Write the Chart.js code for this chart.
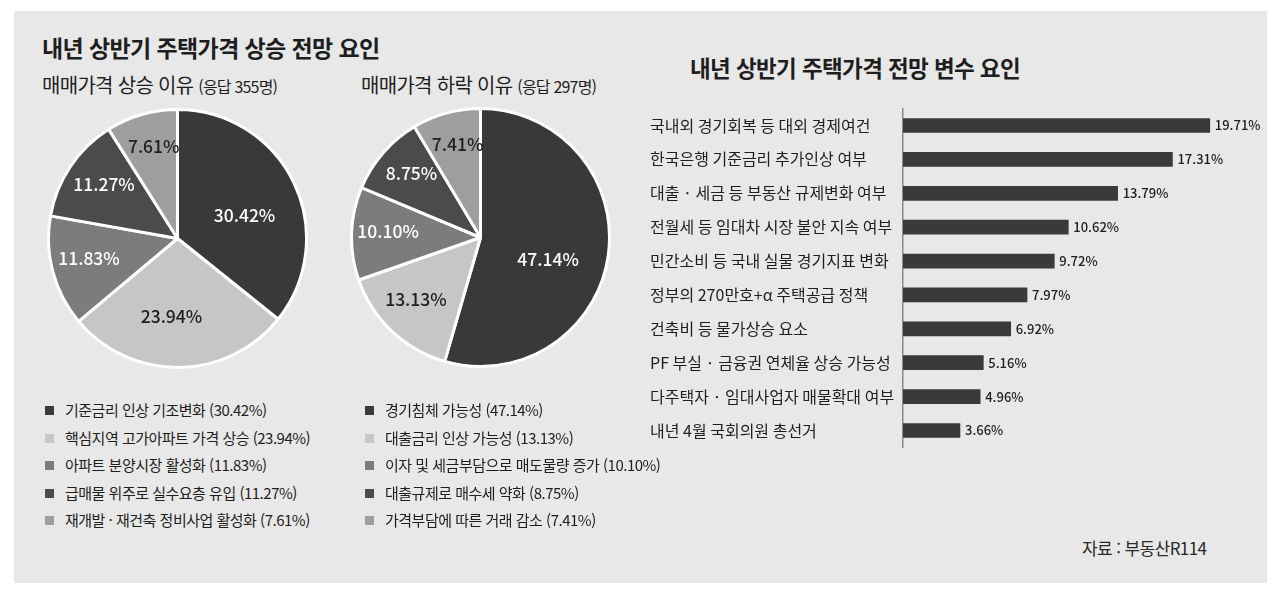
<!DOCTYPE html>
<html lang="ko">
<head>
<meta charset="utf-8">
<title>내년 상반기 주택가격 전망</title>
<script src="https://cdn.jsdelivr.net/npm/chart.js@4.4.1/dist/chart.umd.min.js"></script>
<style>
    html, body { margin: 0; padding: 0; background: #fff; }
    body { width: 1280px; height: 595px; position: relative; overflow: hidden;
           font-family: "Noto Sans CJK KR", "Noto Sans", sans-serif; color: #1e1e1e; }
    .panel { position: absolute; left: 14px; top: 11px; width: 1253px; height: 572px; background: #e8e8e8; }
    .title { position: absolute; font-weight: 700; letter-spacing: -0.6px; white-space: nowrap; }
    .sub { position: absolute; font-size: 20px; letter-spacing: -0.7px; white-space: nowrap; }
    .sub small { font-size: 16px; letter-spacing: -0.8px; }
    canvas { position: absolute; }
    .legend { position: absolute; font-size: 15px; letter-spacing: -0.5px; white-space: nowrap; }
    .legend div { height: 27.5px; line-height: 27.5px; }
    .legend span.box { display: inline-block; width: 9px; height: 9px; margin-right: 11px; vertical-align: 1px; }
    .source { position: absolute; left: 1082px; top: 535px; font-size: 17px; color: #2a2a2a; letter-spacing: -0.6px; }
</style>
</head>
<body>
<div class="panel"></div>
<div class="title" style="left:42px; top:30px; font-size:23px;">내년 상반기 주택가격 상승 전망 요인</div>
<div class="sub" style="left:42px; top:70px;">매매가격 상승 이유 <small>(응답 355명)</small></div>
<div class="sub" style="left:361px; top:70px;">매매가격 하락 이유 <small>(응답 297명)</small></div>
<div class="title" style="left:690px; top:51px; font-size:22.5px;">내년 상반기 주택가격 전망 변수 요인</div>

<canvas id="pie-up" width="261" height="261" style="left:47px; top:108px; width:261px; height:261px;"></canvas>
<canvas id="pie-down" width="261" height="261" style="left:350px; top:107px; width:261px; height:261px;"></canvas>
<canvas id="bar-factors" width="611" height="358" style="left:650px; top:99px; width:611px; height:358px;"></canvas>

<div class="legend" id="legend-up" style="left:45px; top:396px;"></div>
<div class="legend" id="legend-down" style="left:365px; top:396px;"></div>
<div class="source">자료 : 부동산R114</div>

<script>
// 매매가격 상승 이유 (응답 355명)
const upLabels = ['기준금리 인상 기조변화', '핵심지역 고가아파트 가격 상승', '아파트 분양시장 활성화', '급매물 위주로 실수요층 유입', '재개발 · 재건축 정비사업 활성화'];
const upValues = [30.42, 23.94, 11.83, 11.27, 7.61];

// 매매가격 하락 이유 (응답 297명)
const downLabels = ['경기침체 가능성', '대출금리 인상 가능성', '이자 및 세금부담으로 매도물량 증가', '대출규제로 매수세 약화', '가격부담에 따른 거래 감소'];
const downValues = [47.14, 13.13, 10.10, 8.75, 7.41];

// 전망 변수 요인
const factorLabels = ['국내외 경기회복 등 대외 경제여건', '한국은행 기준금리 추가인상 여부', '대출 · 세금 등 부동산 규제변화 여부', '전월세 등 임대차 시장 불안 지속 여부', '민간소비 등 국내 실물 경기지표 변화', '정부의 270만호+α 주택공급 정책', '건축비 등 물가상승 요소', 'PF 부실 · 금융권 연체율 상승 가능성', '다주택자 · 임대사업자 매물확대 여부', '내년 4월 국회의원 총선거'];
const factorValues = [19.71, 17.31, 13.79, 10.62, 9.72, 7.97, 6.92, 5.16, 4.96, 3.66];

const sliceColors = ['#393939', '#c6c6c6', '#7c7c7c', '#4b4b4b', '#9e9e9e'];
const sliceTextColors = ['#fff', '#1e1e1e', '#fff', '#fff', '#1e1e1e'];
const FONT = '"Noto Sans CJK KR", "Noto Sans", sans-serif';

const fmt = v => v.toFixed(2) + '%';

// draws the percent text inside each slice
const sliceLabelPlugin = {
    id: 'sliceLabels',
    afterDatasetsDraw(chart) {
        const ctx = chart.ctx;
        const meta = chart.getDatasetMeta(0);
        const values = chart.data.datasets[0].data;
        const total = values.reduce((a, b) => a + b, 0);
        ctx.save();
        ctx.font = '500 17.5px ' + FONT;
        ctx.textAlign = 'center';
        ctx.textBaseline = 'middle';
        meta.data.forEach((arc, i) => {
            const frac = values[i] / total;
            // smaller slices keep their label further out
            const k = Math.min(0.8, Math.max(0.55, 0.8 - 0.7 * frac));
            const span = arc.endAngle - arc.startAngle;
            const mid = arc.startAngle + span * 0.55;
            const x = arc.x + Math.cos(mid) * arc.outerRadius * k;
            const y = arc.y + Math.sin(mid) * arc.outerRadius * k;
            ctx.fillStyle = sliceTextColors[i];
            ctx.fillText(fmt(values[i]), x, y);
        });
        ctx.restore();
    }
};

// draws the value to the right of each bar
const barValuePlugin = {
    id: 'barValues',
    afterDatasetsDraw(chart) {
        const ctx = chart.ctx;
        const meta = chart.getDatasetMeta(0);
        const values = chart.data.datasets[0].data;
        ctx.save();
        ctx.font = '500 13px ' + FONT;
        ctx.fillStyle = '#1e1e1e';
        ctx.textAlign = 'left';
        ctx.textBaseline = 'middle';
        meta.data.forEach((bar, i) => {
            ctx.fillText(fmt(values[i]), bar.x + 5, bar.y);
        });
        ctx.restore();
    }
};

function makePie(id, labels, values) {
    return new Chart(document.getElementById(id), {
        type: 'pie',
        data: {
            labels: labels,
            datasets: [{
                data: values,
                backgroundColor: sliceColors,
                borderColor: '#ffffff',
                borderWidth: 3,
                hoverOffset: 0
            }]
        },
        options: {
            responsive: false,
            animation: false,
            layout: { padding: 0 },
            plugins: { legend: { display: false }, tooltip: { enabled: false } }
        },
        plugins: [sliceLabelPlugin]
    });
}

function makeLegend(id, labels, values) {
    const box = document.getElementById(id);
    labels.forEach((label, i) => {
        const row = document.createElement('div');
        row.innerHTML = `<span class="box" style="background:${sliceColors[i]}"></span>${label} (${fmt(values[i])})`;
        box.appendChild(row);
    });
}

makePie('pie-up', upLabels, upValues);
makePie('pie-down', downLabels, downValues);
makeLegend('legend-up', upLabels, upValues);
makeLegend('legend-down', downLabels, downValues);

new Chart(document.getElementById('bar-factors'), {
    type: 'bar',
    data: {
        labels: factorLabels,
        datasets: [{
            data: factorValues,
            backgroundColor: '#3a3a3a',
            barThickness: 14
        }]
    },
    options: {
        indexAxis: 'y',
        responsive: false,
        animation: false,
        layout: { padding: 0 },
        scales: {
            x: { display: false, min: 0, max: 23 },
            y: {
                grid: { display: false, drawTicks: false },
                border: { display: true, color: '#8a8a8a', width: 1.5 },
                ticks: {
                    crossAlign: 'far',
                    color: '#1e1e1e',
                    font: { family: FONT, size: 16 },
                    padding: 0
                },
                afterFit(scale) { scale.width = 253; }
            }
        },
        plugins: { legend: { display: false }, tooltip: { enabled: false } }
    },
    plugins: [barValuePlugin]
});
</script>
</body>
</html>
